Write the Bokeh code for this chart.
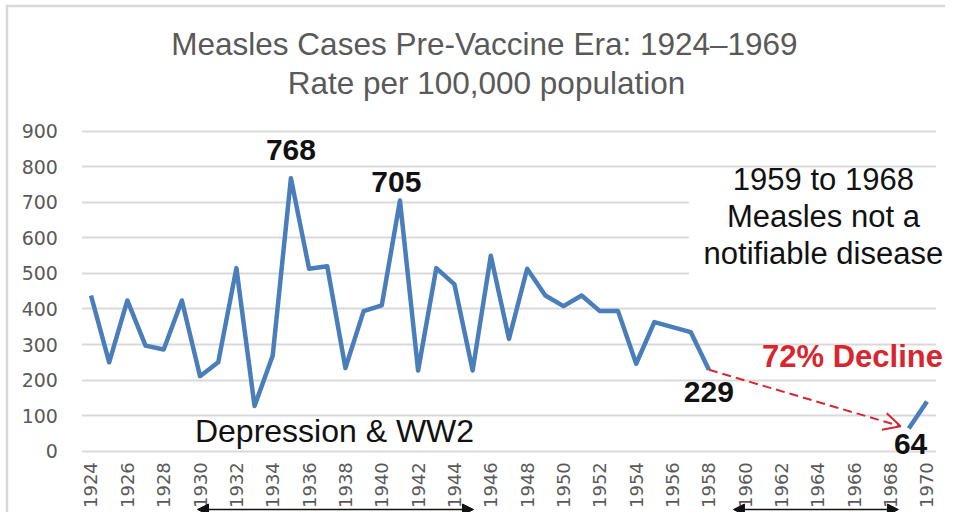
import math
from bokeh.plotting import figure
from bokeh.models import (Range1d, FixedTicker, Label, Arrow, OpenHead, NormalHead,
                          BoxAnnotation, CustomJSTickFormatter)
from bokeh.embed import file_html
from bokeh.resources import INLINE

# ---- data ----
years = list(range(1924, 1971))
rates = [438, 250, 424, 297, 286, 424, 211, 250, 515, 127,
         269, 768, 513, 520, 234, 394, 410, 705, 227, 515,
         469, 227, 550, 316, 513, 438, 408, 438, 394, 394,
         246, 363, 349, 335, 229,
         float("nan"), float("nan"), float("nan"), float("nan"), float("nan"),
         float("nan"), float("nan"), float("nan"), float("nan"), float("nan"),
         64, 140]
x_ticks = [1924, 1926, 1928, 1930, 1932, 1934, 1936, 1938, 1940, 1942, 1944, 1946,
           1948, 1950, 1952, 1954, 1956, 1958, 1960, 1962, 1964, 1966, 1968, 1970]
y_ticks = [0, 100, 200, 300, 400, 500, 600, 700, 800, 900]
title_lines = ["Measles Cases Pre-Vaccine Era: 1924\u20131969", "Rate per 100,000 population"]
note_lines = ["1959 to 1968", "Measles not a", "notifiable disease"]

FONT = "Liberation Sans"
GRAY = "#595959"
RED = "#d7262e"
BLUE = "#4a7ebb"
INK = "#111111"
X0, X1 = 1923.5, 1970.5          # category band edges of the plot area

# the frame fills the whole canvas; axes are pinned at the plot-area edges
p = figure(width=945, height=512, output_backend="svg", toolbar_location=None,
           x_range=Range1d(1919.02, 1971.02), y_range=Range1d(-172.4, 1267.6),
           min_border_left=0, min_border_right=0, min_border_top=0, min_border_bottom=0)
p.outline_line_color = None
p.background_fill_color = "white"
p.border_fill_color = "white"

p.xgrid.grid_line_color = None
p.ygrid.grid_line_color = "#d9d9d9"
p.ygrid.grid_line_width = 2
p.ygrid.ticker = FixedTicker(ticks=y_ticks)

p.yaxis.ticker = FixedTicker(ticks=y_ticks)
p.xaxis.ticker = FixedTicker(ticks=x_ticks)
p.yaxis.fixed_location = X0
p.xaxis.fixed_location = 0
for ax in (p.xaxis, p.yaxis):
    ax.axis_line_color = None
    ax.major_tick_line_color = None
    ax.minor_tick_line_color = None
    ax.major_tick_out = 0
    ax.major_tick_in = 0
    ax.major_label_text_color = GRAY
    ax.major_label_text_font = "DejaVu Sans"
p.yaxis.major_label_text_font_size = "19px"
p.yaxis.major_label_standoff = 24
p.xaxis.major_label_text_font_size = "18px"
p.xaxis.major_label_orientation = math.pi / 2
p.xaxis.major_label_standoff = 11
p.xaxis.formatter = CustomJSTickFormatter(code="return tick.toFixed(0);")

# white masks over the grid outside the plot area and behind the note
for kw in (dict(left=1918, right=X0), dict(left=X1, right=1972),
           dict(left=1956.9, right=1972, top=795, bottom=480)):
    p.add_layout(BoxAnnotation(fill_color="white", fill_alpha=1, line_color=None,
                               line_alpha=0, level="underlay", **kw))

p.line(years, rates, line_color=BLUE, line_width=4.5, line_join="round")

def lab(text, x, y, size, color=INK, style="normal"):
    p.add_layout(Label(x=x, y=y, text=text,
                       text_align="center", text_baseline="alphabetic",
                       text_font=FONT, text_font_size=size, text_color=color,
                       text_font_style=style))

lab(title_lines[0], 1945.65, 1144, "31.5px", GRAY)
lab(title_lines[1], 1945.76, 1036, "31.5px", GRAY)
for t, yy in zip(note_lines, [763, 660, 557]):
    lab(t, 1964.3, yy, "31px")
lab("768", 1935, 848, "30px", style="bold")
lab("705", 1940.8, 756, "30px", style="bold")
lab("229", 1958, 166, "30px", style="bold")
lab("64", 1969.1, 19, "30px", style="bold")
lab("72% Decline", 1965.9, 267, "31px", RED, "bold")
lab("Depression & WW2", 1937.4, 58, "32px")

# decline arrow
p.add_layout(Arrow(end=OpenHead(size=17, line_color=RED, line_width=2),
                   x_start=1958, y_start=229, x_end=1968.55, y_end=70,
                   line_color=RED, line_width=2, line_dash="9 5"))

# period arrows under the year labels
for xs, xe in [(1929.86, 1945.05), (1959.35, 1968.43)]:
    p.add_layout(Arrow(start=NormalHead(size=11, fill_color=INK, line_color=INK),
                       end=NormalHead(size=11, fill_color=INK, line_color=INK),
                       x_start=xs, y_start=-164, x_end=xe, y_end=-164,
                       line_color=INK, line_width=1.5))

# slide border (top and left edges) as thin filled strips
p.add_layout(BoxAnnotation(left=1919.309, right=1919.446, top=1255.6,
                           fill_color="#d9d9d9", fill_alpha=1, line_color=None, line_alpha=0))
p.add_layout(BoxAnnotation(left=1919.309, top=1255.6, bottom=1248.6,
                           fill_color="#d9d9d9", fill_alpha=1, line_color=None, line_alpha=0))

open("out.html", "w").write(file_html(p, INLINE))
